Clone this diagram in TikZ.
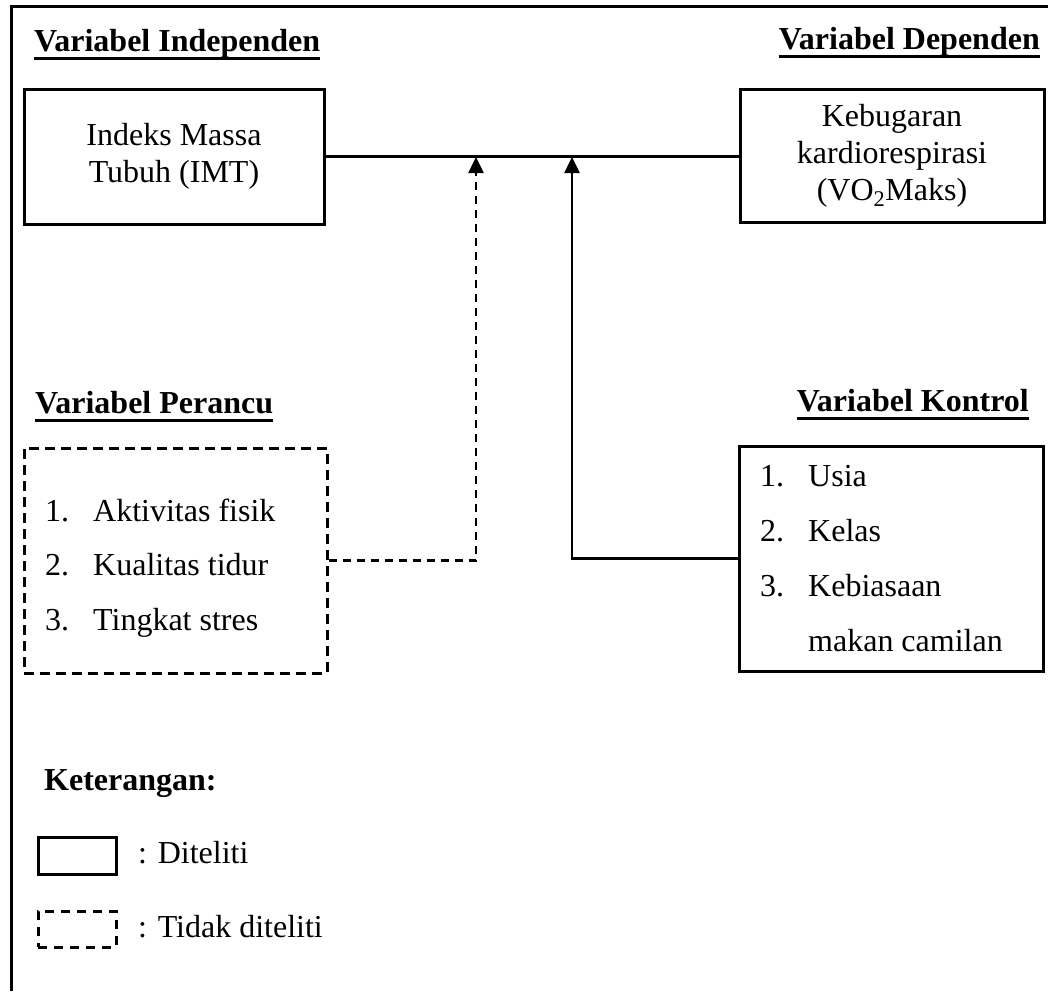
\documentclass[tikz,border=0pt]{standalone}
\usepackage{fontspec}
\setmainfont{Liberation Serif}
\usetikzlibrary{arrows.meta,positioning}

\newcommand{\itm}[2]{\makebox[48pt][l]{#1}#2}

\begin{document}
\begin{tikzpicture}[x=1pt, y=-1pt,
	every node/.style={font=\fontsize{32}{37}\selectfont},
	box/.style={draw, line width=3pt, inner sep=0pt},
	dbox/.style={box, dash pattern=on 10pt off 6pt},
	title/.style={font=\fontsize{32}{37}\selectfont\bfseries, inner sep=0pt},
	item/.style={anchor=base west, inner sep=0pt},
	link/.style={line width=2.5pt},
	arr/.style={-{Triangle[length=16pt,width=15pt]}}]
	\useasboundingbox (0,0) rectangle (1048,991);
	
	\draw[line width=3pt] (11,991) -- (11,6) -- (1048,6);
	
	\node[title, anchor=base west](TI) at (34,51){Variabel Independen};
	\node[title, anchor=base east](TD) at (1040,49){Variabel Dependen};
	\node[title, anchor=base west](TP) at (35,413){Variabel Perancu};
	\node[title, anchor=base east](TK) at (1029,411){Variabel Kontrol};
	\foreach \t in {TI,TD,TP,TK}
		\draw[line width=3pt] ([yshift=-7pt]\t.base west) -- ([yshift=-7pt]\t.base east);
	
	\node[box, minimum width=300pt, minimum height=135pt, align=center](IMT) at (174,156.5){Indeks Massa\\Tubuh (IMT)};
	\node[box, minimum width=304pt, minimum height=133pt, align=center](VO2) at (892,155.5){Kebugaran\\kardiorespirasi\\(VO\textsubscript{2}Maks)};
	
	\draw[link] (IMT.east) -- (IMT.east -| VO2.west);
	
	\node[dbox, minimum width=303pt, minimum height=225pt](PER) at (175.5,560.5){};
	\node[item](P1) at (45,521){\itm{1.}{Aktivitas fisik}};
	\node[below=54.5pt of P1.base west, item](P2){\itm{2.}{Kualitas tidur}};
	\node[below=54.5pt of P2.base west, item](P3){\itm{3.}{Tingkat stres}};
	
	\node[box, minimum width=304pt, minimum height=225pt](KON) at (891,558.5){};
	\node[item](K1) at (760,486){\itm{1.}{Usia}};
	\node[below=55pt of K1.base west, item](K2){\itm{2.}{Kelas}};
	\node[below=55pt of K2.base west, item](K3){\itm{3.}{Kebiasaan}};
	\node[below=55pt of K3.base west, item](K4){\itm{}{makan camilan}};
	
	\coordinate(JP) at (476,157);
	\coordinate(JK) at (572,157);
	\draw[link, dash pattern=on 8pt off 6pt, arr] (PER.east) -| (JP);
	\draw[link, arr] (KON.west) -| (JK);
	
	\node[title, anchor=base west](KET) at (44,790){Keterangan:};
	\node[box, minimum width=78pt, minimum height=37pt](L1) at (77,855.5){};
	\node[item](L1T) at (138,863){: Diteliti};
	\node[dbox, dash pattern=on 9pt off 7pt, minimum width=78pt, minimum height=36pt](L2) at (77,929){};
	\node[item](L2T) at (138,937){: Tidak diteliti};
\end{tikzpicture}
\end{document}
